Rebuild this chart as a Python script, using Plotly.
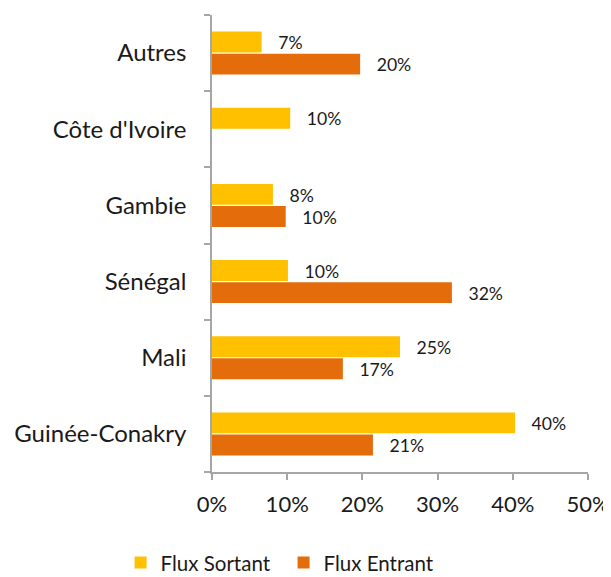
import plotly.graph_objects as go

categories = ["Guinée-Conakry", "Mali", "Sénégal", "Gambie", "Côte d'Ivoire", "Autres"]
flux_sortant = [40.3, 25.0, 10.1, 8.1, 10.4, 6.6]
flux_entrant = [21.4, 17.4, 31.9, 9.8, None, 19.7]
sortant_labels = ["40%", "25%", "10%", "8%", "10%", "7%"]
entrant_labels = ["21%", "17%", "32%", "10%", "", "20%"]
x_ticks = [0, 10, 20, 30, 40, 50]
x_tick_labels = ["0%", "10%", "20%", "30%", "40%", "50%"]

FONT = "Lato"
TEXT = "#1a1a1a"
AXIS = "#A6A6A6"

fig = go.Figure()
fig.add_trace(go.Bar(
    y=categories, x=flux_entrant, orientation="h", name="Flux Entrant",
    marker=dict(color="#E46C0A", line=dict(width=0)),
    text=["   " + t if t else "" for t in entrant_labels], textposition="outside",
    textfont=dict(family=FONT, size=21, color=TEXT), cliponaxis=False,
    legendrank=2, hoverinfo="skip",
))
fig.add_trace(go.Bar(
    y=categories, x=flux_sortant, orientation="h", name="Flux Sortant",
    marker=dict(color="#FFC000", line=dict(width=0)),
    text=["   " + t for t in sortant_labels], textposition="outside",
    textfont=dict(family=FONT, size=21, color=TEXT), cliponaxis=False,
    legendrank=1, hoverinfo="skip",
))

# The page body adds an 8px margin, so the figure is sized to fit the window.
fig.update_layout(
    width=603, height=569,
    margin=dict(l=204, r=23, t=7, b=105, autoexpand=False),
    barmode="group", bargap=0.42, bargroupgap=0.05,
    plot_bgcolor="white", paper_bgcolor="white",
    font=dict(family=FONT, color=TEXT),
    legend=dict(orientation="h", xref="container", x=0.1867, xanchor="left",
                yref="container", y=0.025, yanchor="middle",
                font=dict(family=FONT, size=20.5, color=TEXT),
                entrywidth=118, traceorder="normal"),
    showlegend=True,
)
fig.update_xaxes(
    range=[0, 50], tickvals=x_ticks, ticktext=x_tick_labels,
    showgrid=False, zeroline=False, showline=True, linecolor=AXIS, linewidth=1.5,
    ticks="outside", ticklen=6, tickcolor=AXIS, tickwidth=1.5,
    tickfont=dict(family=FONT, size=22, color=TEXT), ticklabelstandoff=6,
    fixedrange=True, automargin=False,
)
fig.update_yaxes(
    showgrid=False, showline=True, linecolor=AXIS, linewidth=1.5,
    ticks="outside", ticklen=6, tickcolor=AXIS, tickwidth=1.5, tickson="boundaries",
    tickfont=dict(family=FONT, size=24, color=TEXT), ticklabelstandoff=19,
    fixedrange=True, automargin=False,
)

fig.write_html("out.html")
